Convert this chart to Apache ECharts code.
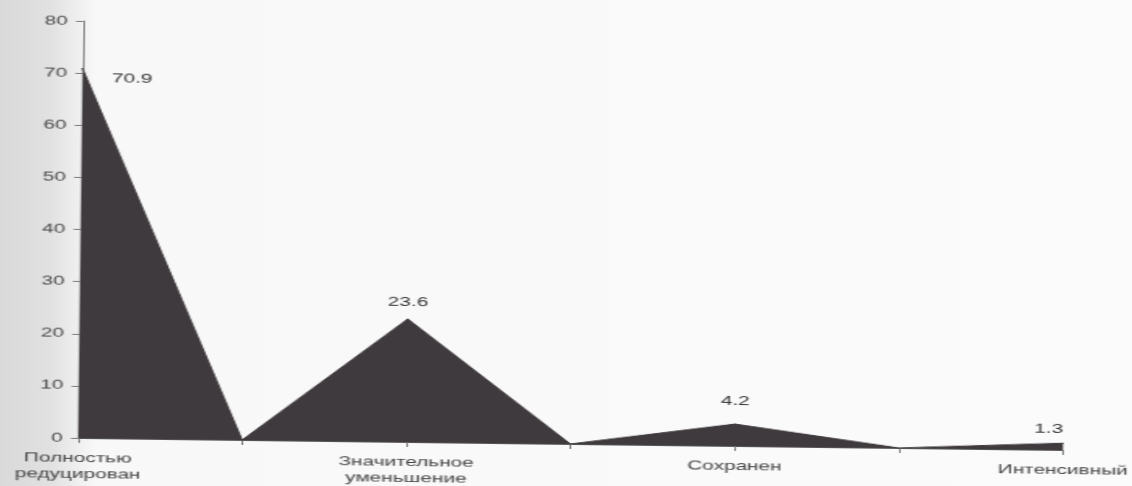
<!DOCTYPE html>
<html>
<head>
<meta charset="utf-8">
<script src="https://cdn.jsdelivr.net/npm/echarts@6/dist/echarts.min.js"></script>
<style>
  html, body {
    margin: 0; padding: 0; width: 1132px; height: 486px; overflow: hidden;
    background: linear-gradient(to right, #d9d9d9 0px, #e1e1e1 50px, #ececec 72px, #f8f8f8 95px, #fbfbfb 100%);
  }
  /* Drawn narrow and widened with CSS so the lettering reads broad; tilted slightly like the printed sheet */
  #chart {
    position: absolute; left: 0; top: 0;
    width: 707.5px; height: 486px;
    transform-origin: 0 437px;
    transform: rotate(0.7deg) scaleX(1.6);
  }
</style>
</head>
<body>
<div id="chart"></div>
<script>
// Category positions: each group peak, with the gaps between groups falling back to zero
const categories = ['Полностью\nредуцирован', '', 'Значительное\nуменьшение', '', 'Сохранен', '', 'Интенсивный'];
const values = [70.9, 0, 23.6, 0, 4.2, 0, 1.3];

const yMin = 0;
const yMax = 80;
const yStep = 10;

// Where each value label sits relative to its peak
const peakLabelStyle = {
  0: { position: [19, 10], align: 'left', verticalAlign: 'middle' },
  2: { position: 'top', distance: 10 },
  4: { position: 'top', distance: 16 },
  6: { position: 'top', distance: 7, align: 'right' }
};

const fill = '#3f3a3d';
const font = '"Liberation Sans", Arial, sans-serif';

const seriesData = values.map((v, i) => {
  const lab = peakLabelStyle[i];
  return lab ? { value: v, label: Object.assign({}, lab) } : { value: v };
});

const chart = echarts.init(document.getElementById('chart'), null, { renderer: 'canvas' });
chart.setOption({
  animation: false,
  backgroundColor: 'transparent',
  grid: { left: 48.75, right: 40.6, top: 20, bottom: 49, containLabel: false },
  xAxis: {
    type: 'category',
    data: categories,
    boundaryGap: false,
    axisLine: { show: true, lineStyle: { color: '#555', width: 1 } },
    axisTick: { show: true, alignWithLabel: true, interval: 0, length: 5, lineStyle: { color: '#777' } },
    axisLabel: {
      interval: 0, margin: 12,
      fontFamily: font, fontSize: 13, lineHeight: 16, color: '#444'
    },
    splitLine: { show: false }
  },
  yAxis: {
    type: 'value',
    min: yMin, max: yMax, interval: yStep,
    axisLine: { show: true, lineStyle: { color: '#7a7a7a', width: 1 } },
    axisTick: { show: true, length: 4.4, lineStyle: { color: '#7a7a7a' } },
    axisLabel: { margin: 9.5, fontFamily: font, fontSize: 13, color: '#4a4a4a' },
    splitLine: { show: false }
  },
  series: [{
    type: 'line',
    data: seriesData,
    symbol: 'circle',
    symbolSize: 1,
    showSymbol: true,
    itemStyle: { color: fill },
    smooth: false,
    lineStyle: { color: fill, width: 1 },
    areaStyle: { color: fill, opacity: 1 },
    label: {
      show: true,
      fontFamily: font, fontSize: 13, color: '#333',
      formatter: p => (p.value ? String(p.value) : '')
    },
    labelLayout: { hideOverlap: false },
    z: 1
  }]
});
</script>
</body>
</html>
